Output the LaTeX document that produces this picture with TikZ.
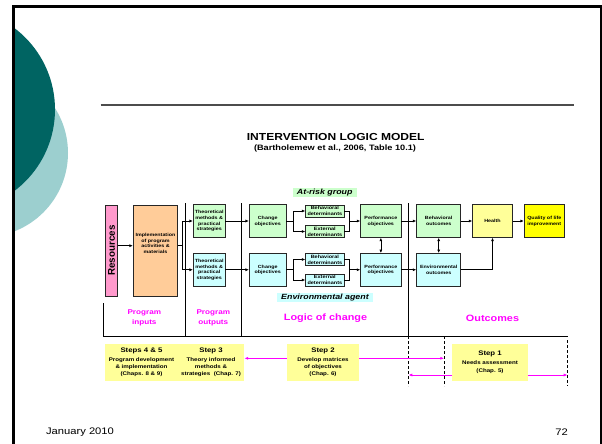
\documentclass[tikz,border=0pt]{standalone}
\usepackage{fontspec}
\setmainfont{Liberation Sans}[FakeStretch=1.18]
\newfontfamily\plainsans{Liberation Sans}
\usetikzlibrary{arrows.meta,calc}

\definecolor{cDkTeal}{HTML}{006462}
\definecolor{cLtTeal}{HTML}{9CCFCF}
\definecolor{cPink}{HTML}{FF99CC}
\definecolor{cOrange}{HTML}{FFCC99}
\definecolor{cGreen}{HTML}{CCFFCC}
\definecolor{cCyan}{HTML}{CCFFFF}
\definecolor{cLtYellow}{HTML}{FFFF99}
\definecolor{cYellow}{HTML}{FFFF00}
\definecolor{cMagenta}{HTML}{FF00FF}

\tikzset{
  blk/.style={draw=black!85, line width=0.8pt, inner sep=0pt, align=center,
    font=\bfseries\fontsize{4.55}{5.7}\selectfont},
  detbox/.style={blk, minimum width=38.3, minimum height=12,
    font=\bfseries\fontsize{4.67}{6.2}\selectfont},
  conn/.style={line width=0.7pt},
  arr/.style={conn, -{Latex[length=3.5pt,width=3pt]}},
  darr/.style={conn, {Latex[length=3.5pt,width=3pt]}-{Latex[length=3.5pt,width=3pt]}},
  sep/.style={line width=0.8pt},
  dsep/.style={sep, dash pattern=on 3pt off 2pt},
  mag/.style={draw=cMagenta, line width=0.8pt, -{Latex[length=4pt,width=3pt]}},
  stepbox/.style={fill=cLtYellow, inner sep=0pt, align=center, minimum height=37,
    font=\bfseries\fontsize{5.25}{7}\selectfont},
  zone/.style={text=cMagenta, align=center, font=\bfseries\fontsize{6.9}{10}\selectfont},
  bigzone/.style={text=cMagenta, font=\bfseries\fontsize{9.2}{11}\selectfont},
  tag/.style={inner sep=0pt, font=\bfseries\itshape\fontsize{7.5}{9}\selectfont},
}

\begin{document}
\begin{tikzpicture}[x=1pt,y=-1pt]
\useasboundingbox (0,0) rectangle (602,444);

% slide decoration: two overlapping discs at the left edge
\begin{scope}
  \clip (14.5,8) rectangle (600,444);
  \fill[cLtTeal] (-16,153) circle (84pt);
  \fill[cDkTeal] (-47,109.5) circle (102pt);
\end{scope}
\draw[line width=2.4pt, line join=miter] (13.3,444) -- (13.3,6.7) -- (600.8,6.7) -- (600.8,444);
\draw[line width=1.4pt, black!70] (100.7,105) -- (573.7,105);

% heading
\node[font=\bfseries\fontsize{10.2}{12}\selectfont] (title) at (335.7,137) {INTERVENTION LOGIC MODEL};
\node[font=\bfseries\fontsize{7.8}{9}\selectfont] (sub) at (335,148) {(Bartholemew et al., 2006, Table 10.1)};

% row tags
\node[tag, fill=cGreen, minimum width=64, minimum height=9] (risk) at (324.7,192.5) {At-risk group};
\node[tag, fill=cCyan, minimum width=96.6, minimum height=8.4] (agent) at (325,297.5) {Environmental agent};

% column separators and bracket
\draw[sep] (185.7,203) -- (185.7,336);
\draw[sep] (241.7,203) -- (241.7,336);
\draw[sep] (408.3,203) -- (408.3,336);
\draw[sep] (103,303) -- (103,336) -- (568,336);
\draw[dsep] (408.3,336) -- (408.3,386);
\draw[dsep] (444.3,336) -- (444.3,386);
\draw[dsep] (567.7,340) -- (567.7,386);

% inputs
\node[blk, fill=cPink, minimum width=11.6, minimum height=91] (res) at (111.5,250.5) {};
\node[rotate=90, inner sep=0pt, font=\plainsans\bfseries\fontsize{9.8}{11}\selectfont] (restext) at (res.center) {Resources};
\node[blk, fill=cOrange, minimum width=44.4, minimum height=91] (impl) at (155.5,250.5) {};
\node[align=center, inner sep=0pt, font=\bfseries\fontsize{4.55}{5.7}\selectfont] (impltext)
  at ([yshift=7pt]impl.center) {Implementation\\of program\\activities \&\\materials};

% at-risk group row
\node[blk, fill=cGreen, minimum width=31.7, minimum height=32.5] (theoA) at (209.2,221) {Theoretical\\methods \&\\practical\\strategies};
\node[blk, fill=cGreen, minimum width=36.7, minimum height=32.5] (chgA) at (267.7,221) {Change\\objectives};
\node[detbox, fill=cGreen] (bdA) at (324.85,211) {Behavioral\\determinants};
\node[detbox, fill=cGreen] (edA) at (324.85,231.5) {External\\determinants};
\node[blk, fill=cGreen, minimum width=40.3, minimum height=32.5] (perfA) at (380.85,221) {Performance\\objectives};
\node[blk, fill=cGreen, minimum width=44, minimum height=32.5] (bo) at (438.7,221) {Behavioral\\outcomes};
\node[blk, fill=cLtYellow, minimum width=39.6, minimum height=32.5] (health) at (492.5,221) {Health};
\node[blk, fill=cYellow, minimum width=40, minimum height=32.5] (qol) at (544.3,221) {Quality of life\\improvement};

% environmental agent row
\node[blk, fill=cCyan, minimum width=31.7, minimum height=32.5] (theoE) at (209.2,269.75) {Theoretical\\methods \&\\practical\\strategies};
\node[blk, fill=cCyan, minimum width=36.7, minimum height=32.5] (chgE) at (267.7,269.75) {Change\\objectives};
\node[detbox, fill=cCyan] (bdE) at (324.85,259.5) {Behavioral\\determinants};
\node[detbox, fill=cCyan] (edE) at (324.85,280) {External\\determinants};
\node[blk, fill=cCyan, minimum width=40.3, minimum height=32.5] (perfE) at (380.85,269.75) {Performance\\objectives};
\node[blk, fill=cCyan, minimum width=44, minimum height=32.5] (eo) at (438.7,269.75) {Environmental\\outcomes};

% connectors
\draw[arr] ([yshift=4.8pt]res.east) -- ([yshift=4.8pt]impl.west);
\coordinate (sI) at ([xshift=4.3pt,yshift=4.8pt]impl.east);
\draw[conn] ([yshift=4.8pt]impl.east) -- (sI);
\draw[arr] (sI) |- (theoA.west);
\draw[arr] (sI) |- (theoE.west);
\foreach \r in {A,E}{
  \draw[arr] (theo\r) -- (chg\r);
  \coordinate (s\r) at ([xshift=7.3pt]chg\r.east);
  \draw[conn] (chg\r.east) -- (s\r);
  \draw[arr] (s\r) |- (bd\r.west);
  \draw[arr] (s\r) |- (ed\r.west);
  \coordinate (j\r) at ([xshift=-10.7pt]perf\r.west);
  \draw[conn] (bd\r.east) -| (j\r) |- (ed\r.east);
  \draw[arr] (j\r) -- (perf\r.west);
}
\draw[arr] (perfA) -- (bo);
\draw[arr] (perfE) -- (eo);
\draw[arr] (bo) -- (health);
\draw[arr] (health) -- (qol);
\draw[darr] (perfA) -- (perfE);
\draw[darr] (bo) -- (eo);
\draw[arr] (eo.east) -| (health.south);

% zone captions
\node[zone] (pin) at (144.3,318.3) {Program\\inputs};
\node[zone] (pout) at (213.3,318.3) {Program\\outputs};
\node[bigzone] (loc) at (325.5,318.5) {Logic of change};
\node[bigzone] (outc) at (492.5,318.3) {Outcomes};

% planning steps
\node[stepbox, minimum width=73] (s45) at (141.5,362.5)
  {{\fontsize{6.6}{8}\selectfont Steps 4 \& 5}\\[2.3pt]Program development\\\& implementation\\(Chaps. 8 \& 9)};
\node[stepbox, minimum width=66] (s3) at (211,362.5)
  {{\fontsize{6.6}{8}\selectfont Step 3}\\[2.3pt]Theory informed\\methods \&\\strategies\ \ (Chap. 7)};
\node[stepbox, minimum width=72] (s2) at (323,362.5)
  {{\fontsize{6.6}{8}\selectfont Step 2}\\[2.3pt]Develop matrices\\of objectives\\(Chap. 6)};
\node[stepbox, minimum width=75.4, font=\bfseries\fontsize{5.25}{7.8}\selectfont] (s1) at (490,362.5)
  {{\fontsize{6.6}{8}\selectfont Step 1}\\[1pt]Needs assessment\\(Chap. 5)};

\coordinate (mR) at (444.3,358.3);
\coordinate (mL) at (408.3,375);
\coordinate (mE) at (567.7,375);
\draw[mag] ([yshift=4.2pt]s2.west) -- ([yshift=4.2pt]s3.east);
\draw[mag] ([yshift=4.2pt]s2.east) -- (mR);
\draw[mag] ([yshift=-12.5pt]s1.west) -- (mL);
\draw[mag] ([yshift=-12.5pt]s1.east) -- (mE);

% footer
\node[font=\fontsize{9.5}{11}\selectfont] (date) at (80,432) {January 2010};
\node[font=\fontsize{9.5}{11}\selectfont] (page) at (561.6,432) {72};
\end{tikzpicture}
\end{document}
